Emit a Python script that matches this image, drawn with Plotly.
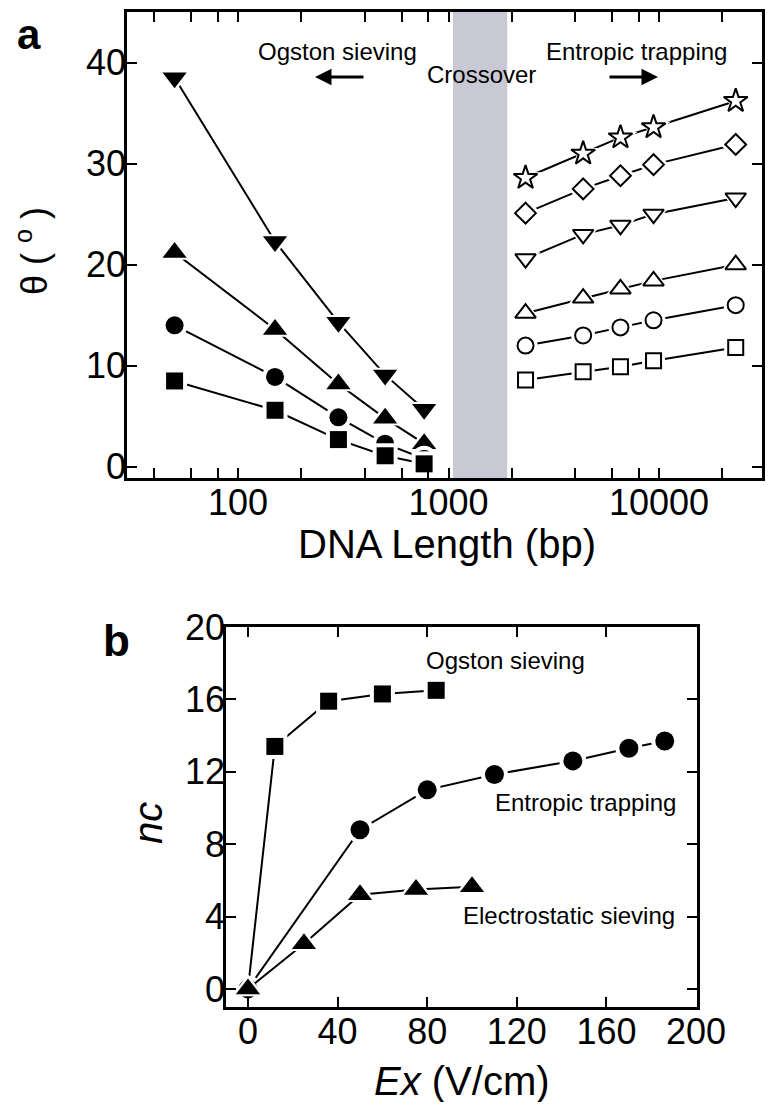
import plotly.graph_objects as go

# page body has an 8px default margin; the figure is sized so the page is 784x1110
OFF = 8
W, H = 784 - 2 * OFF, 1110 - 2 * OFF

# ---------------- Panel a data ----------------
bp_short = [50, 150, 300, 500, 766]
theta_invtri = [38.5, 22.3, 14.3, 9.1, 5.7]
theta_tri = [21.2, 13.6, 8.2, 4.8, 2.3]
theta_circ = [14.0, 8.9, 4.9, 2.3, 0.8]
theta_sq = [8.5, 5.6, 2.7, 1.1, 0.3]

bp_long = [2322, 4361, 6557, 9416, 23130]
theta_star = [28.6, 31.0, 32.6, 33.6, 36.2]
theta_diam = [25.1, 27.5, 28.8, 29.9, 31.9]
theta_invtri_open = [20.6, 23.0, 23.9, 25.0, 26.6]
theta_tri_open = [15.2, 16.7, 17.6, 18.4, 20.0]
theta_circ_open = [12.0, 13.0, 13.8, 14.5, 16.0]
theta_sq_open = [8.6, 9.4, 9.9, 10.5, 11.8]

crossover_bp = [1050, 1900]
theta_range = [-1.1, 45.0]
bp_major = [100, 1000, 10000]
bp_minor = [40, 60, 80, 200, 400, 600, 800, 2000, 4000, 6000, 8000, 20000]
theta_ticks = [0, 10, 20, 30, 40]

# ---------------- Panel b data ----------------
ex_ogston = [0, 12, 36, 60, 84]
nc_ogston = [0, 13.4, 15.9, 16.3, 16.5]
ex_entropic = [0, 50, 80, 110, 145, 170, 186]
nc_entropic = [0, 8.8, 11.0, 11.85, 12.6, 13.3, 13.7]
ex_electro = [0, 25, 50, 75, 100]
nc_electro = [0, 2.5, 5.2, 5.5, 5.65]

ex_ticks = [0, 40, 80, 120, 160, 200]
nc_ticks = [0, 4, 8, 12, 16, 20]
ex_range = [-9.8, 200.4]
nc_range = [-1.0, 20.0]

FONT = "Liberation Sans, Arial, Helvetica, sans-serif"

fig = go.Figure()


def add_series(x, y, symbol, size, filled, xa, ya, halo=8):
    fig.add_trace(go.Scatter(x=x, y=y, mode="lines", xaxis=xa, yaxis=ya,
                             line=dict(color="black", width=2),
                             hoverinfo="skip", showlegend=False))
    fig.add_trace(go.Scatter(x=x, y=y, mode="markers", xaxis=xa, yaxis=ya,
                             marker=dict(symbol=symbol, size=size + halo, color="white",
                                         line=dict(width=0)),
                             hoverinfo="skip", showlegend=False))
    fig.add_trace(go.Scatter(x=x, y=y, mode="markers", xaxis=xa, yaxis=ya,
                             marker=dict(symbol=symbol, size=size,
                                         color="black" if filled else "white",
                                         line=dict(color="black", width=0 if filled else 2)),
                             showlegend=False))


# crossover band
fig.add_trace(go.Scatter(
    x=[crossover_bp[0], crossover_bp[1], crossover_bp[1], crossover_bp[0], crossover_bp[0]],
    y=[theta_range[0], theta_range[0], theta_range[1], theta_range[1], theta_range[0]],
    mode="lines", fill="toself", fillcolor="rgb(200,201,212)",
    line=dict(width=0, color="rgba(0,0,0,0)"), hoverinfo="skip", showlegend=False,
    xaxis="x", yaxis="y"))

# panel a: filled series
add_series(bp_short, theta_invtri, "triangle-down", 21, True, "x", "y")
add_series(bp_short, theta_tri, "triangle-up", 21, True, "x", "y")
add_series(bp_short, theta_circ, "circle", 18, True, "x", "y")
add_series(bp_short, theta_sq, "square", 17, True, "x", "y")
# panel a: open series
add_series(bp_long, theta_star, "star", 18, False, "x", "y")
add_series(bp_long, theta_diam, "diamond", 16, False, "x", "y")
add_series(bp_long, theta_invtri_open, "triangle-down", 18, False, "x", "y")
add_series(bp_long, theta_tri_open, "triangle-up", 18, False, "x", "y")
add_series(bp_long, theta_circ_open, "circle", 16, False, "x", "y")
add_series(bp_long, theta_sq_open, "square", 15, False, "x", "y")

# panel b
add_series(ex_ogston, nc_ogston, "square", 17, True, "x2", "y2")
add_series(ex_entropic, nc_entropic, "circle", 19, True, "x2", "y2")
add_series(ex_electro, nc_electro, "triangle-up", 21, True, "x2", "y2")


def pxx(x):
    return (x - OFF) / W


def pxy(y):
    return 1 - (y - OFF) / H


axis_common = dict(showline=True, linewidth=2.5, linecolor="black", mirror="allticks",
                   ticks="inside", ticklen=10, tickwidth=2, tickcolor="black",
                   showgrid=False, zeroline=False, automargin=False,
                   ticklabelstandoff=-9,
                   tickfont=dict(family=FONT, size=36, color="black"))

bp_vals = sorted(bp_major + bp_minor)
bp_text = [str(v) if v in bp_major else "" for v in bp_vals]

fig.update_layout(
    width=W, height=H, margin=dict(l=0, r=0, t=0, b=0, pad=0, autoexpand=False),
    paper_bgcolor="white", plot_bgcolor="white", showlegend=False,
    font=dict(family=FONT, color="black"),
    xaxis=dict(domain=[pxx(127), pxx(762)], anchor="y", type="log",
               range=[1.473, 4.489], tickmode="array", tickvals=bp_vals, ticktext=bp_text,
               **axis_common),
    yaxis=dict(domain=[pxy(478), pxy(12)], anchor="x", range=theta_range,
               tickmode="array", tickvals=theta_ticks, **axis_common),
    xaxis2=dict(domain=[pxx(226), pxx(697)], anchor="y2", range=ex_range,
                tickmode="array", tickvals=ex_ticks, **axis_common),
    yaxis2=dict(domain=[pxy(1007), pxy(627)], anchor="x2", range=nc_range,
                tickmode="array", tickvals=nc_ticks, **axis_common),
)

ann = []


def text(x, y, s, size, **kw):
    d = dict(x=pxx(x), y=pxy(y), xref="paper", yref="paper", text=s, showarrow=False,
             font=dict(family=FONT, size=size, color="black"),
             xanchor="center", yanchor="middle")
    d.update(kw)
    ann.append(d)


# panel labels
text(15, 34, "<b>a</b>", 42, xanchor="left")
text(101, 640, "<b>b</b>", 44, xanchor="left")

# axis titles
text(447, 544, "DNA Length (bp)", 40)
text(32, 251, "θ ( <sup>o</sup> )", 36, textangle=-90)
text(462, 1081, "<i>E</i><i>x</i> (V/cm)", 40)
text(148, 823, "<i>nc</i>", 40, textangle=-90)

# panel a regime labels
text(337, 52, "Ogston sieving", 24)
text(481, 75, "Crossover", 24)
text(636, 52, "Entropic trapping", 24)

# arrows (head position, tail offset in pixels)
for head, tail in [((315, 77), (365, 77)), ((658, 77), (608, 77))]:
    ann.append(dict(x=pxx(head[0]), y=pxy(head[1]), xref="paper", yref="paper",
                    ax=tail[0] - head[0], ay=tail[1] - head[1],
                    text="", showarrow=True, arrowhead=2, arrowsize=1.1, arrowwidth=3,
                    arrowcolor="black"))

# panel b regime labels
text(505, 660, "Ogston sieving", 24)
text(585, 802, "Entropic trapping", 24)
text(569, 915, "Electrostatic sieving", 24)

fig.update_layout(annotations=ann)
fig.write_html("out.html")
